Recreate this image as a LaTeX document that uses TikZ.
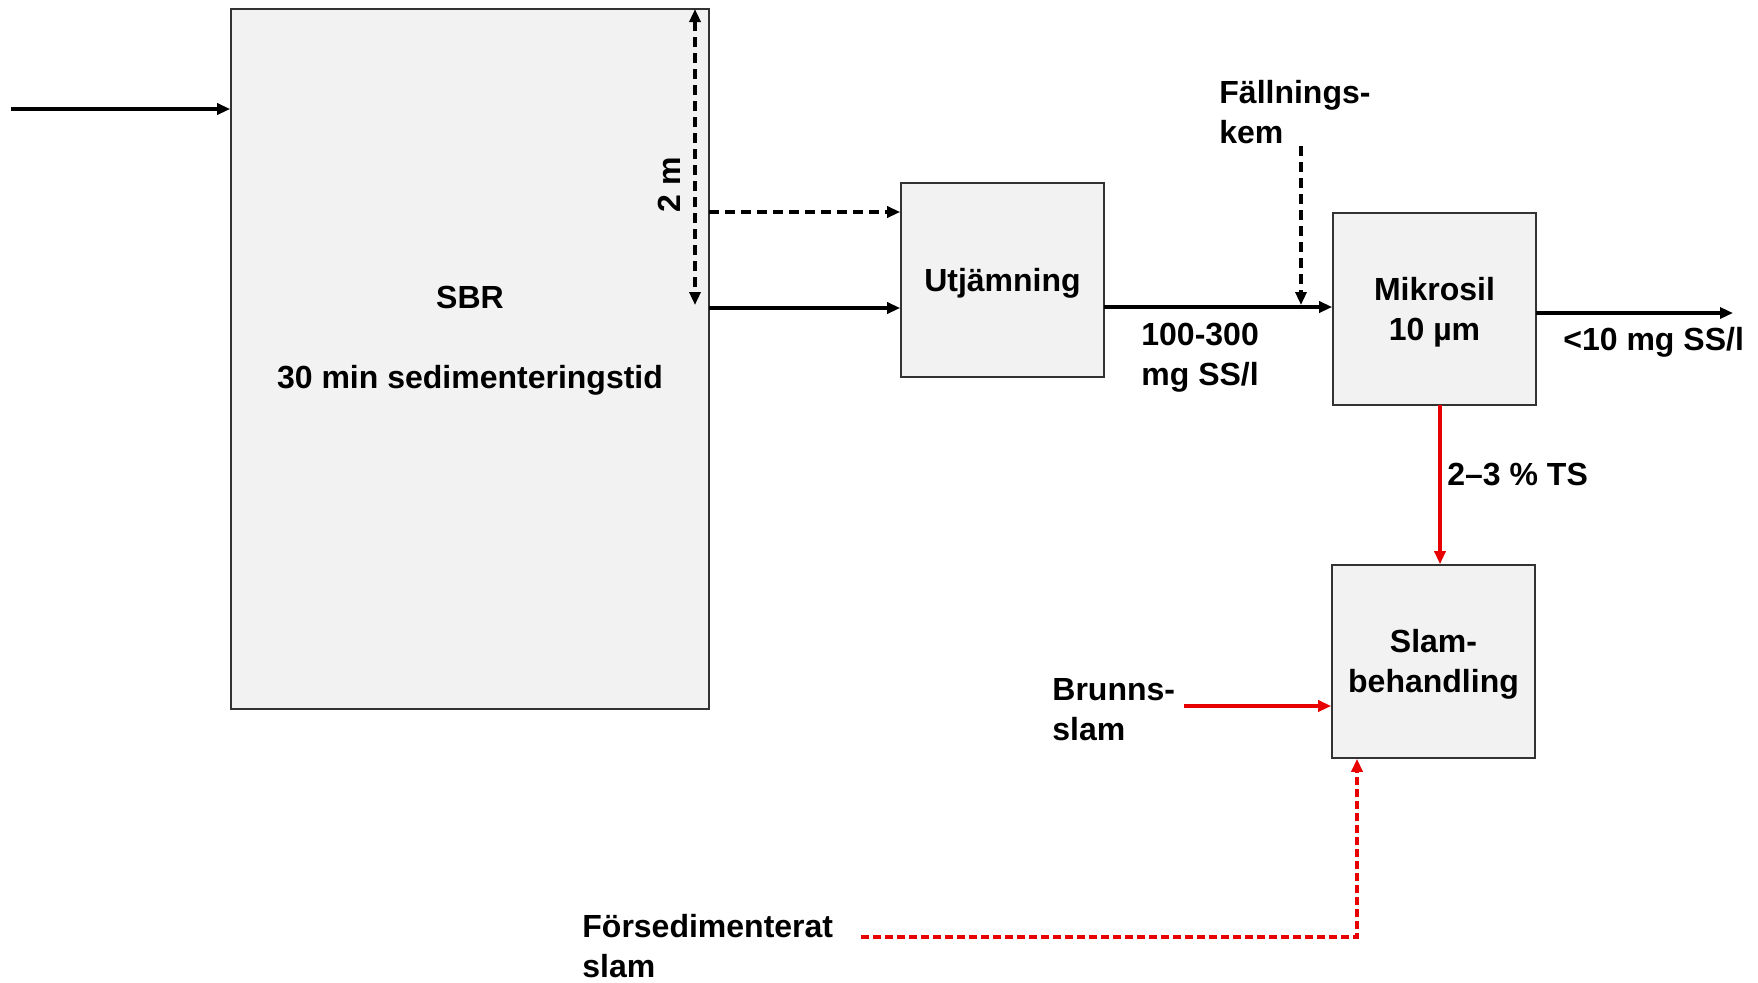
\documentclass[tikz,border=0pt]{standalone}
\usepackage{fontspec}
\setmainfont{Liberation Sans}
\usetikzlibrary{arrows.meta}
\definecolor{boxfill}{RGB}{242,242,242}
\definecolor{flowred}{RGB}{232,0,0}
\begin{document}
\begin{tikzpicture}[x=0.5pt,y=-0.5pt,
  font=\bfseries\fontsize{16}{20}\selectfont,
  >={Triangle[length=6.5pt,width=5.5pt]},
  unit/.style={draw=black!80,line width=0.8pt,fill=boxfill,rectangle,inner sep=0pt,align=center,minimum width=101.5pt},
  intext/.style={label={[inner sep=0pt,align=center,yshift=-1.6pt]center:#1}},
  lbl/.style={inner sep=0pt,align=left,anchor=west},
  flow/.style={line width=1.6pt,->},
  dflow/.style={flow,dash pattern=on 5pt off 3pt},
  rflow/.style={flow,color=flowred},
  rdflow/.style={rflow,dash pattern=on 4pt off 2pt}]
\useasboundingbox (0,0) rectangle (1758,982);
% boxes
\node[unit,minimum width=239pt,minimum height=350pt] (sbr) at (470,359) {};
\node[inner sep=0pt,align=center] (sbrtext) at (470,341) {SBR\\[20pt]30 min sedimenteringstid};
\node[unit,minimum height=97pt,intext={Utjämning}] (utj) at (1002.5,280) {};
\node[unit,minimum height=96pt,intext={Mikrosil\\10 µm}] (mik) at (1434.5,309) {};
\node[unit,minimum height=96.5pt,intext={Slam-\\behandling}] (slam) at (1433.5,661.5) {};
% labels
\node[lbl,rotate=90,anchor=center] (twom) at (669,185) {2 m};
\node[lbl] (fall) at (1219,112) {Fällnings-\\kem};
\node[lbl] (conc) at (1141,358) {100-300\\mg SS/l};
\node[lbl] (outl) at (1563,342) {<10 mg SS/l};
\node[lbl] (ts) at (1447,474) {2–3 \% TS};
\node[lbl] (brunn) at (1052,710) {Brunns-\\slam};
\node[lbl] (fors) at (582,946) {Försedimenterat\\slam};
% coordinates
\coordinate (in) at (11,109);
\coordinate (htop) at (695,9);
\coordinate (hbot) at (695,305);
\coordinate (d1) at (709,212);
\coordinate (s1) at (709,308);
\coordinate (j1) at (1104,307);
\coordinate (f1) at (1301,146);
\coordinate (f2) at (1301,305);
\coordinate (o1) at (1536,313);
\coordinate (o2) at (1733,313);
\coordinate (r1) at (1440,405);
\coordinate (b1) at (1184,706);
\coordinate (p1) at (861,937);
\coordinate (p2) at (1357,937);
% connectors
\draw[flow] (in) -- (in -| sbr.west);
\draw[dflow,<->] (htop) -- (hbot);
\draw[dflow] (d1) -- (d1 -| utj.west);
\draw[flow] (s1) -- (s1 -| utj.west);
\draw[flow] (j1) -- (j1 -| mik.west);
\draw[dflow] (f1) -- (f2);
\draw[flow] (o1) -- (o2);
\draw[rflow] (r1) -- (r1 |- slam.north);
\draw[rflow] (b1) -- (b1 -| slam.west);
\draw[rdflow] (p1) -- (p2) -- (p2 |- slam.south);
\end{tikzpicture}
\end{document}
